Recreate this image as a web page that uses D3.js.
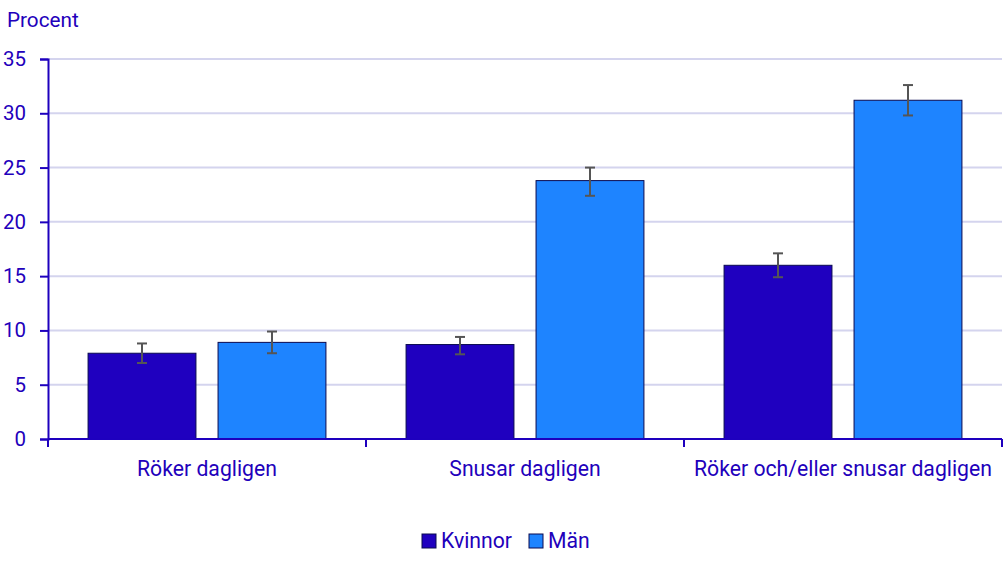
<!DOCTYPE html>
<html>
<head>
<meta charset="utf-8">
<script src="https://cdn.jsdelivr.net/npm/d3@7"></script>
<style>
  body { margin: 0; background: #fff; }
  svg { font-family: Roboto, sans-serif; }
</style>
</head>
<body>
<svg id="chart" width="1004" height="574"></svg>
<script>
var categories = ["Röker dagligen", "Snusar dagligen", "Röker och/eller snusar dagligen"];
var seriesNames = ["Kvinnor", "Män"];
var kvinnor = [7.9, 8.7, 16.0];
var kvinnorLow = [7.0, 7.8, 14.9];
var kvinnorHigh = [8.8, 9.4, 17.1];
var man = [8.9, 23.8, 31.2];
var manLow = [7.9, 22.4, 29.8];
var manHigh = [9.9, 25.0, 32.6];
var yTicks = [0, 5, 10, 15, 20, 25, 30, 35];

var textColor = "#2200bb";
var colors = ["#1f00bf", "#1e84ff"];

var margin = {top: 59, right: 2, bottom: 135, left: 48};
var width = 1004 - margin.left - margin.right;
var height = 574 - margin.top - margin.bottom;

var svg = d3.select("#chart");
var g = svg.append("g").attr("transform", "translate(" + margin.left + "," + margin.top + ")");

// build rows from the arrays
var rows = categories.map(function(c, i) {
  return {
    cat: c,
    vals: [
      {name: seriesNames[0], value: kvinnor[i], lo: kvinnorLow[i], hi: kvinnorHigh[i]},
      {name: seriesNames[1], value: man[i], lo: manLow[i], hi: manHigh[i]}
    ]
  };
});

var x0 = d3.scaleBand().domain(categories).range([0, width]).padding(0);
var x1 = d3.scaleBand().domain(seriesNames)
  .range([x0.bandwidth() * 0.126, x0.bandwidth() * 0.874])
  .paddingInner(0.17).paddingOuter(0);
var y = d3.scaleLinear().domain([0, 35]).range([height, 0]);

// grid
g.selectAll("line.grid")
  .data(yTicks.filter(function(d) { return d > 0; }))
  .enter().append("line")
    .attr("class", "grid")
    .attr("x1", 0).attr("x2", width)
    .attr("y1", function(d) { return y(d); })
    .attr("y2", function(d) { return y(d); })
    .attr("stroke", "#d4d4ee")
    .attr("stroke-width", 2);

// bars
var groups = g.selectAll("g.cat")
  .data(rows)
  .enter().append("g")
    .attr("transform", function(d) { return "translate(" + x0(d.cat) + ",0)"; });

groups.selectAll("rect")
  .data(function(d) { return d.vals; })
  .enter().append("rect")
    .attr("x", function(d) { return x1(d.name); })
    .attr("y", function(d) { return y(d.value); })
    .attr("width", x1.bandwidth())
    .attr("height", function(d) { return height - y(d.value); })
    .attr("fill", function(d, i) { return colors[i]; })
    .attr("stroke", "#0a0a50")
    .attr("stroke-width", 1);

// error bars
var err = groups.selectAll("g.err")
  .data(function(d) { return d.vals; })
  .enter().append("g")
    .attr("stroke", "#555")
    .attr("stroke-width", 2);

err.append("line")
  .attr("x1", function(d) { return x1(d.name) + x1.bandwidth() / 2; })
  .attr("x2", function(d) { return x1(d.name) + x1.bandwidth() / 2; })
  .attr("y1", function(d) { return y(d.lo); })
  .attr("y2", function(d) { return y(d.hi); });

["lo", "hi"].forEach(function(k) {
  err.append("line")
    .attr("x1", function(d) { return x1(d.name) + x1.bandwidth() / 2 - 5; })
    .attr("x2", function(d) { return x1(d.name) + x1.bandwidth() / 2 + 5; })
    .attr("y1", function(d) { return y(d[k]); })
    .attr("y2", function(d) { return y(d[k]); });
});

// y axis
var yAxis = g.append("g")
  .call(d3.axisLeft(y).tickValues(yTicks).tickSize(8).tickPadding(14));
yAxis.select(".domain").attr("stroke", "#1e00be").attr("stroke-width", 2);
yAxis.selectAll(".tick line").attr("stroke", "#1e00be").attr("stroke-width", 2);
yAxis.selectAll(".tick text")
  .attr("fill", textColor)
  .attr("font-size", "20.5px")
  .attr("font-family", "Roboto, sans-serif");

// x axis
var xAxis = g.append("g").attr("transform", "translate(0," + height + ")");
xAxis.append("line")
  .attr("x1", 0).attr("x2", width)
  .attr("stroke", "#1e00be").attr("stroke-width", 2);
xAxis.selectAll("line.tk")
  .data([0].concat(categories.map(function(c) { return x0(c) + x0.bandwidth(); })))
  .enter().append("line")
    .attr("x1", function(d) { return d; })
    .attr("x2", function(d) { return d; })
    .attr("y1", 0).attr("y2", 8)
    .attr("stroke", "#1e00be").attr("stroke-width", 2);
xAxis.selectAll("text")
  .data(categories)
  .enter().append("text")
    .attr("x", function(d) { return x0(d) + x0.bandwidth() / 2; })
    .attr("y", 37)
    .attr("text-anchor", "middle")
    .attr("fill", textColor)
    .attr("font-size", "21.2px")
    .text(function(d) { return d; });

// y title
svg.append("text")
  .attr("x", 7).attr("y", 27)
  .attr("fill", textColor)
  .attr("font-size", "20.7px")
  .text("Procent");

// legend
var legend = svg.append("g").attr("transform", "translate(422,534)");
var lx = [0, 107];
seriesNames.forEach(function(s, i) {
  legend.append("rect")
    .attr("x", lx[i]).attr("y", 0)
    .attr("width", 14).attr("height", 14)
    .attr("fill", colors[i])
    .attr("stroke", "#0a0a50");
  legend.append("text")
    .attr("x", lx[i] + 19).attr("y", 14)
    .attr("fill", textColor)
    .attr("font-size", "21.2px")
    .text(s);
});
</script>
</body>
</html>
